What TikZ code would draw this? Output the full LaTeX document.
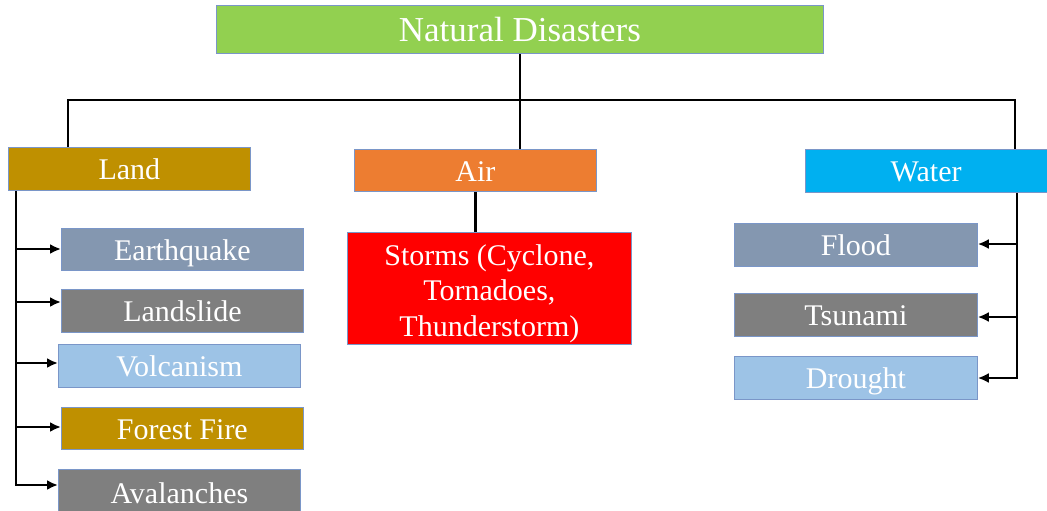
\documentclass[tikz,border=0pt]{standalone}
\usepackage{fontspec}
\setmainfont{Liberation Serif}
\usetikzlibrary{arrows.meta,calc}
\definecolor{cgreen}{HTML}{92D050}
\definecolor{cgold}{HTML}{BF9000}
\definecolor{corange}{HTML}{ED7D31}
\definecolor{cblue}{HTML}{00B0F0}
\definecolor{cslate}{HTML}{8497B0}
\definecolor{cgrey}{HTML}{7F7F7F}
\definecolor{clight}{HTML}{9DC3E6}
\definecolor{cred}{HTML}{FF0000}
\definecolor{cborder}{HTML}{7A96C8}
\begin{document}
\begin{tikzpicture}[x=1pt,y=-1pt,
  box/.style={draw=cborder, line width=0.8pt, fill=#1, text=white, inner sep=0pt,
    anchor=north west, align=center, font=\fontsize{30}{35.5}\selectfont,
    text height=24pt, text depth=2pt},
  conn/.style={line width=2.6pt, black},
  arr/.style={conn, -{Latex[length=11pt,width=10pt]}}]
\useasboundingbox (0,0) rectangle (1047,511);
\node[box=cgreen, minimum width=607pt, minimum height=48pt, font=\fontsize{35}{40}\selectfont, text height=28pt, text depth=3pt] (top) at (216,5) {Natural Disasters};
\node[box=cgold, minimum width=242pt, minimum height=43pt] (land) at (8,147) {Land};
\node[box=corange, minimum width=242pt, minimum height=42pt] (air) at (354,149) {Air};
\node[box=cblue, minimum width=241.5pt, minimum height=43pt] (water) at (805,149) {Water};
\node[box=cred, minimum width=284pt, minimum height=112pt, text height={}, text depth={}, align=none] (storms) at (347,232)
  {\raisebox{-5pt}[\height][\depth]{\begin{tabular}{@{}c@{}}Storms (Cyclone,\\Tornadoes,\\Thunderstorm)\end{tabular}}};
\node[box=cslate, minimum width=242pt, minimum height=42pt] (eq) at (61,228) {Earthquake};
\node[box=cgrey, minimum width=242pt, minimum height=43pt] (ls) at (61,289) {Landslide};
\node[box=clight, minimum width=242pt, minimum height=43pt] (vo) at (58,344) {Volcanism};
\node[box=cgold, minimum width=242pt, minimum height=42pt] (ff) at (61,407) {Forest Fire};
\node[box=cgrey, minimum width=242pt, minimum height=46pt] (av) at (58,469) {Avalanches};
\node[box=cslate, minimum width=243pt, minimum height=43pt] (fl) at (734,223) {Flood};
\node[box=cgrey, minimum width=243pt, minimum height=43pt] (ts) at (734,293) {Tsunami};
\node[box=clight, minimum width=243pt, minimum height=43pt] (dr) at (734,356) {Drought};
% top level connectors
\coordinate (hl) at (68,100);
\coordinate (hr) at (1015,100);
\draw[conn] (top.south) -- (top.south |- air.north);
\draw[conn] (land.north -| hl) -- (hl) -- (hr) -- (water.north -| hr);
\draw[conn] (air.south) -- (air.south |- storms.north);
% land branch
\coordinate (lv) at (16,0);
\draw[arr] (land.south -| lv) |- (av.west |- 0,485);
\draw[arr] (lv |- 0,249) -- (eq.west |- 0,249);
\draw[arr] (lv |- 0,302) -- (ls.west |- 0,302);
\draw[arr] (lv |- 0,363) -- (vo.west |- 0,363);
\draw[arr] (lv |- 0,427) -- (ff.west |- 0,427);
% water branch
\coordinate (wv) at (1017,0);
\draw[arr] (water.south -| wv) |- (dr.east |- 0,378);
\draw[arr] (wv |- 0,244) -- (fl.east |- 0,244);
\draw[arr] (wv |- 0,317) -- (ts.east |- 0,317);
\end{tikzpicture}
\end{document}
